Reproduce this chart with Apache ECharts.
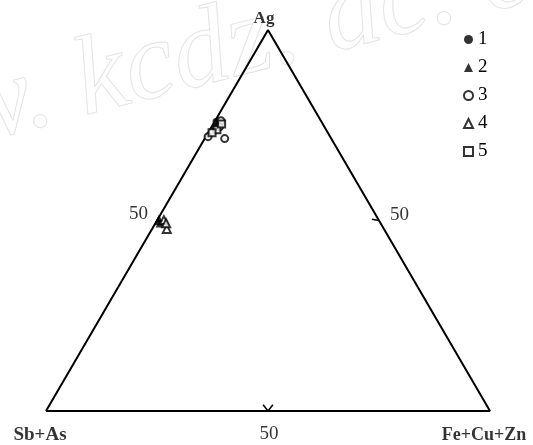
<!DOCTYPE html>
<html>
<head>
<meta charset="utf-8">
<script src="https://cdn.jsdelivr.net/npm/echarts@6/dist/echarts.min.js"></script>
<style>
html,body{margin:0;padding:0;background:#fff}
#main{width:533px;height:445px}
</style>
</head>
<body>
<div id="main"></div>
<script>
// ternary compositions, [Ag %, Fe+Cu+Zn %], Sb+As = the rest
var groupNames = ['1', '2', '3', '4', '5'];
var groupSymbols = ['circle', 'triangle', 'emptyCircle', 'emptyTriangle', 'emptyRect'];
var group1 = [[76, 0.3], [74.5, 0.8], [75.5, 1.2]];
var group2 = [[50.5, 0.2], [49.2, 1.0], [49.8, 0.3]];
var group3 = [[72, 0.5], [71.5, 4.5], [76.2, 1.3], [74.6, 1.8]];
var group4 = [[50.1, 1.5], [47.8, 3.3], [49.3, 2.4]];
var group5 = [[73.8, 1.6], [73, 0.9], [75.3, 1.9]];
var groups = [group1, group2, group3, group4, group5];

var axisNames = ['Ag', 'Sb+As', 'Fe+Cu+Zn'];
var tickValue = 50;

var H = Math.sqrt(3) / 2;
var FONT = '"Liberation Serif", "DejaVu Serif", serif';

// ternary -> cartesian (Sb+As at origin, Fe+Cu+Zn at (1,0), Ag at top)
function toXY(ag, fe) {
  ag = ag / 100; fe = fe / 100;
  return [fe + ag / 2, ag * H];
}

var vTop = toXY(100, 0), vLeft = toXY(0, 0), vRight = toXY(0, 100);
var tLeft = toXY(tickValue, 0), tRight = toXY(tickValue, 100 - tickValue), tBottom = toXY(0, tickValue);

var series = [];

series.push({
  type: 'line',
  data: [vLeft, vRight, vTop, vLeft],
  symbol: 'none',
  silent: true,
  lineStyle: {color: '#000', width: 2},
  z: 1
});

series.push({
  type: 'lines',
  coordinateSystem: 'cartesian2d',
  silent: true,
  lineStyle: {color: '#000', width: 1.5, opacity: 1},
  data: [
    {coords: [tRight, [tRight[0] - 0.016, tRight[1] + 0.003]]},
    {coords: [tLeft, [tLeft[0] + 0.014, tLeft[1]]]},
    {coords: [tBottom, [tBottom[0] - 0.011, tBottom[1] + 0.014]]},
    {coords: [tBottom, [tBottom[0] + 0.011, tBottom[1] + 0.014]]}
  ],
  z: 2
});

for (var i = 0; i < groups.length; i++) {
  var filled = groupSymbols[i].indexOf('empty') != 0;
  series.push({
    name: groupNames[i],
    type: 'scatter',
    symbol: groupSymbols[i],
    symbolSize: groupSymbols[i].indexOf('riangle') > -1 ? 8 : 7,
    data: groups[i].map(function (p) { return toXY(p[0], p[1]); }),
    itemStyle: {color: '#000', borderColor: '#000', borderWidth: filled ? 0 : 1.3},
    z: 5
  });
}

function lbl(pos, name, position, dx, dy, size, weight) {
  return {
    value: pos, name: name,
    label: {show: true, position: position, offset: [dx, dy], formatter: '{b}',
      color: '#000', fontFamily: FONT, fontSize: size, fontWeight: weight}
  };
}

series.push({
  type: 'scatter',
  symbolSize: 0,
  silent: true,
  data: [
    lbl(vTop, axisNames[0], 'top', -4, 2, 17, 'bold'),
    lbl(vLeft, axisNames[1], 'bottom', -6, 10, 19, 'bold'),
    lbl(vRight, axisNames[2], 'bottom', -6, 10, 18, 'bold'),
    lbl(tBottom, String(tickValue), 'bottom', 1, 9, 19, 'normal'),
    lbl(tRight, String(tickValue), 'right', 6, -5, 19, 'normal'),
    lbl(tLeft, String(tickValue), 'left', -4, -6, 19, 'normal')
  ],
  z: 3
});

var chart = echarts.init(document.getElementById('main'));
chart.setOption({
  backgroundColor: '#fff',
  animation: false,
  graphic: [{
    type: 'text',
    x: -172, y: 208,
    rotation: 0.25,
    z: -1,
    silent: true,
    style: {text: 'www. kcdz. ac. cn', x: 0, y: 0, textVerticalAlign: 'bottom',
      fontSize: 112, fontStyle: 'italic', fontFamily: FONT,
      fill: 'rgba(0,0,0,0)', stroke: '#e4e4e4', lineWidth: 1}
  }],
  grid: {left: 46, right: 43, top: 30, bottom: 34},
  xAxis: {type: 'value', min: 0, max: 1, show: false},
  yAxis: {type: 'value', min: 0, max: H, show: false},
  legend: {
    data: groupNames,
    orient: 'vertical',
    left: 458, top: 25,
    itemWidth: 9, itemHeight: 9,
    itemGap: 9,
    textStyle: {color: '#000', fontFamily: FONT, fontSize: 19}
  },
  series: series
});
</script>
</body>
</html>
